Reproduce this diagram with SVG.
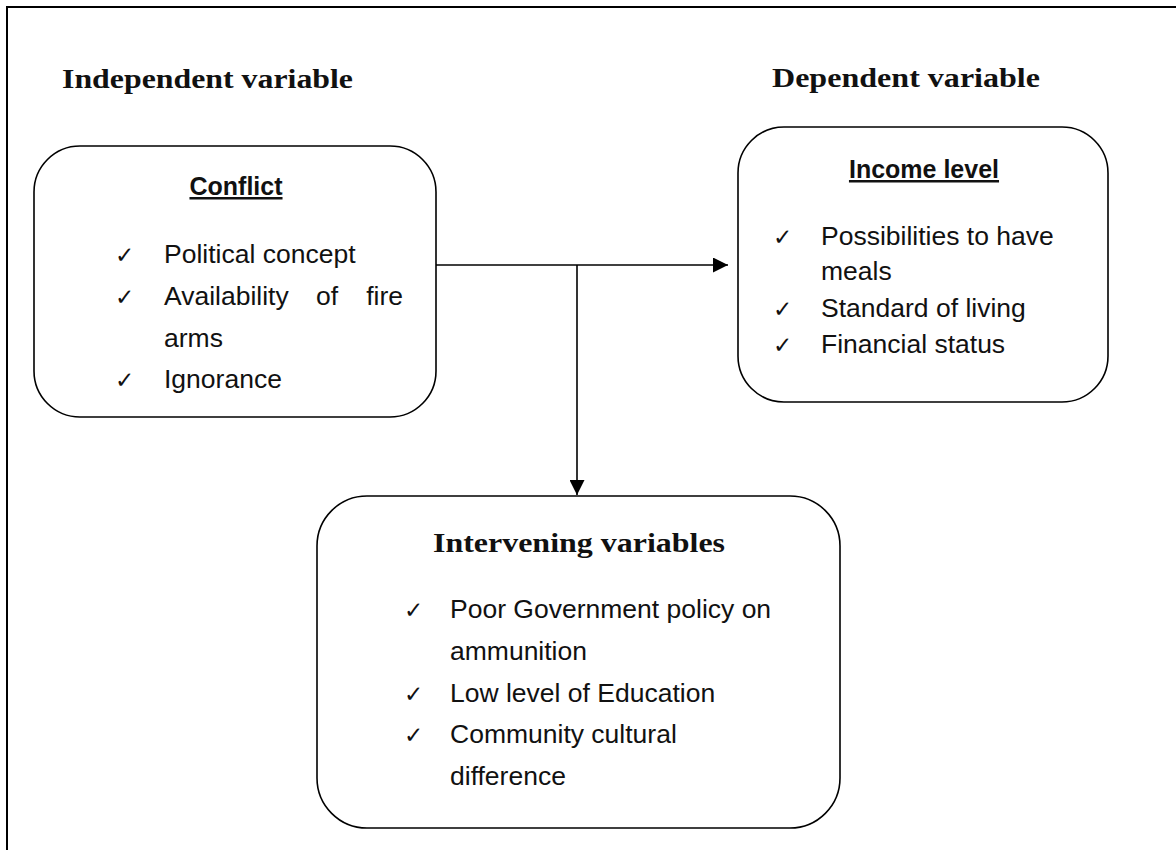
<svg xmlns="http://www.w3.org/2000/svg" width="1176" height="850" viewBox="0 0 1176 850">
<style>
.box{fill:#fff;stroke:#000;stroke-width:1.6}
.hd{font-family:"Liberation Serif","Times New Roman",serif;font-weight:bold;font-size:28px;fill:#111}
.t{font-family:"Liberation Sans",Arial,sans-serif;font-size:26.5px;fill:#111}
.ck{font-family:"DejaVu Sans",sans-serif;font-size:23px;fill:#111}
.u{font-family:"Liberation Sans",Arial,sans-serif;font-weight:bold;font-size:25px;fill:#111;text-decoration:underline}
.ln{fill:none;stroke:#000;stroke-width:1.6}
</style>
<defs>
<marker id="ah2" viewBox="0 0 10 10" refX="10" refY="5" markerWidth="15" markerHeight="15" markerUnits="userSpaceOnUse" orient="auto">
<path d="M0,0 L10,5 L0,10 z" fill="#000"/>
</marker>
</defs>
<rect width="1176" height="850" fill="#fff"/>
<path d="M7,850 V7 H1176" fill="none" stroke="#000" stroke-width="2"/>
<text class="hd" x="62" y="88" textLength="291" lengthAdjust="spacingAndGlyphs">Independent variable</text>
<text class="hd" x="772" y="87" textLength="268" lengthAdjust="spacingAndGlyphs">Dependent variable</text>

<g id="conflict">
<rect class="box" x="34" y="146" width="402" height="271" rx="46" ry="46"/>
<text class="u" x="236" y="195" text-anchor="middle">Conflict</text>
<text class="ck" x="115" y="263">✓</text>
<text class="t" x="164" y="263">Political concept</text>
<text class="ck" x="115" y="305">✓</text>
<text class="t" x="164" y="305">Availability</text>
<text class="t" x="316" y="305">of</text>
<text class="t" x="403" y="305" text-anchor="end">fire</text>
<text class="t" x="164" y="347">arms</text>
<text class="ck" x="115" y="388">✓</text>
<text class="t" x="164" y="388">Ignorance</text>
</g>

<g id="income">
<rect class="box" x="738" y="127" width="370" height="275" rx="46" ry="46"/>
<text class="u" x="924" y="178" text-anchor="middle">Income level</text>
<text class="ck" x="773" y="245">✓</text>
<text class="t" x="821" y="245">Possibilities to have</text>
<text class="t" x="821" y="280">meals</text>
<text class="ck" x="773" y="317">✓</text>
<text class="t" x="821" y="317">Standard of living</text>
<text class="ck" x="773" y="353">✓</text>
<text class="t" x="821" y="353">Financial status</text>
</g>

<g id="intervening">
<rect class="box" x="317" y="496" width="523" height="332" rx="50" ry="50"/>
<text class="hd" x="433" y="552" textLength="292" lengthAdjust="spacingAndGlyphs">Intervening variables</text>
<text class="ck" x="404" y="618">✓</text>
<text class="t" x="450" y="618">Poor Government policy on</text>
<text class="t" x="450" y="660">ammunition</text>
<text class="ck" x="404" y="702">✓</text>
<text class="t" x="450" y="702">Low level of Education</text>
<text class="ck" x="404" y="743">✓</text>
<text class="t" x="450" y="743">Community cultural</text>
<text class="t" x="450" y="785">difference</text>
</g>

<g id="connectors">
<line class="ln" x1="436" y1="265" x2="728" y2="265" marker-end="url(#ah2)"/>
<line class="ln" x1="577" y1="265" x2="577" y2="495" marker-end="url(#ah2)"/>
</g>
</svg>
